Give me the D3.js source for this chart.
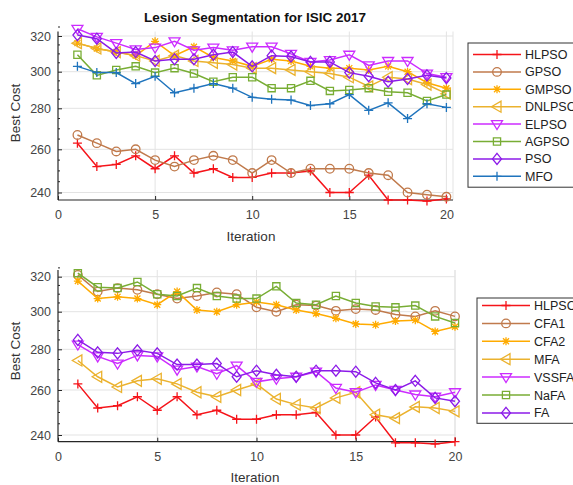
<!DOCTYPE html>
<html>
<head>
	<script type="text/javascript" src="https://cdn.jsdelivr.net/npm/d3@7/dist/d3.min.js"></script>
	<style>
		body { margin: 0; background: #fff; }
		text { font-family: "Liberation Sans", Arial, sans-serif; }
	</style>
</head>
<body>
	<script type="text/javascript">

		// x values (iterations) and tick labels
		var iterations = [1, 2, 3, 4, 5, 6, 7, 8, 9, 10, 11, 12, 13, 14, 15, 16, 17, 18, 19, 20];
		var xTicks = [0, 5, 10, 15, 20];
		var yTicks = [240, 260, 280, 300, 320];

		// top panel series
		var hlpso  = [263, 252, 253, 257, 251, 257, 249, 251, 247, 247, 249, 249, 250, 240, 240, 248, 236.5, 236.5, 236, 237];
		var gpso   = [267, 263, 259, 260, 255, 252, 255, 257, 255, 249, 255, 249, 251, 251, 251, 249, 248, 240, 239, 238];
		var gmpso  = [316, 313, 311, 309, 317, 309, 314, 308, 306, 303, 307, 306, 303, 302, 302, 301, 303, 300, 294, 291];
		var dnlpso = [316, 313, 311, 309, 306, 309, 306, 305, 304, 302, 302, 301, 300, 299, 297, 292, 297, 296, 293, 288];
		var elpso  = [324, 319.5, 316, 312.5, 313.5, 317, 312, 313.5, 312, 314, 314, 310, 305.5, 306.5, 309.5, 303.5, 306, 306, 299, 297];
		var agpso  = [309.5, 298, 301, 303, 299.5, 302, 299, 294.5, 297, 297, 291, 291, 295, 289.5, 290, 291, 289, 288.5, 284, 287.5];
		var pso    = [320.5, 318.5, 310.5, 311, 306, 307, 307, 309.5, 311, 303, 309, 308.5, 305.5, 305.5, 299.5, 297.5, 294.5, 296, 298, 296.5];
		var mfo    = [303, 299.5, 299.5, 293.5, 297.5, 288.5, 291, 293.5, 291, 286, 285, 284.5, 281.5, 282.5, 287.5, 279, 283, 275, 282.5, 280.5];

		// bottom panel series
		var cfa1  = [321, 311.5, 313.5, 312.5, 310, 307.5, 309, 311, 310, 302.5, 300, 304, 303.5, 300.5, 301.5, 301, 298.5, 297.5, 300.5, 297.5];
		var cfa2  = [317.5, 307.5, 308.5, 307.5, 304, 311.5, 301, 300, 304, 305.5, 304, 301, 299, 296.5, 293.5, 293, 295, 295.5, 289.5, 292];
		var mfa   = [274.5, 266.5, 261.5, 264.5, 265.5, 263, 259, 257, 260, 263, 256, 253.5, 252, 256.5, 259, 249, 247.5, 252.5, 252, 250.5];
		var vssfa = [282.5, 276.5, 273, 277, 276.5, 270, 271.5, 268, 272, 264, 265.5, 266.5, 269, 261, 259, 262.5, 260, 258, 257, 259];
		var nafa  = [322, 314, 313.5, 317, 310, 309, 313.5, 309, 307.5, 307.5, 314.5, 305, 304, 309, 305, 303, 302.5, 303.5, 297.5, 294];
		var fa    = [285, 278.5, 278, 279.5, 278, 272.5, 272.5, 273, 266.5, 269.5, 267.5, 266.5, 269.5, 269.5, 269, 263.5, 260, 264.5, 256.5, 255];

		var topNames = ['HLPSO', 'GPSO', 'GMPSO', 'DNLPSO', 'ELPSO', 'AGPSO', 'PSO', 'MFO'];
		var topSeries = [hlpso, gpso, gmpso, dnlpso, elpso, agpso, pso, mfo];
		var bottomNames = ['HLPSO', 'CFA1', 'CFA2', 'MFA', 'VSSFA', 'NaFA', 'FA'];
		var bottomSeries = [hlpso, cfa1, cfa2, mfa, vssfa, nafa, fa];

		// styles
		var red = '#f5141a', brown = '#c07a4c', orange = '#ffab00', gold = '#ebb22e',
			magenta = '#cc2cff', green = '#78ad34', purple = '#8c1be8', blue = '#1f74bd';
		var topStyle = [
			{c: red, m: 'plus'}, {c: brown, m: 'circle'}, {c: orange, m: 'star'}, {c: gold, m: 'left'},
			{c: magenta, m: 'down'}, {c: green, m: 'square'}, {c: purple, m: 'diamond'}, {c: blue, m: 'plus'}
		];
		var bottomStyle = [
			{c: red, m: 'plus'}, {c: brown, m: 'circle'}, {c: orange, m: 'star'}, {c: gold, m: 'left'},
			{c: magenta, m: 'down'}, {c: green, m: 'square'}, {c: purple, m: 'diamond'}
		];

		function markerPath(m) {
			switch (m) {
				case 'plus': return 'M-4.5,0H4.5M0,-4.5V4.5';
				case 'star': return 'M-4,0H4M0,-4V4M-3,-3L3,3M-3,3L3,-3';
				case 'circle': return 'M4.3,0A4.3,4.3 0 1,1 -4.3,0A4.3,4.3 0 1,1 4.3,0Z';
				case 'square': return 'M-3.6,-3.6H3.6V3.6H-3.6Z';
				case 'diamond': return 'M0,-5.5L4.5,0L0,5.5L-4.5,0Z';
				case 'down': return 'M-5.5,-3.5H5.5L0,5.5Z';
				case 'left': return 'M4,-5.5V5.5L-5.5,0Z';
			}
		}

		var W = 573, H = 485;
		var svg = d3.select('body').append('svg')
			.attr('width', W).attr('height', H);

		function panel(opt) {
			var x = d3.scaleLinear().domain([0, opt.xMax]).range([opt.left, opt.right]);
			// the picture's y axis is slightly uneven, so map through the tick stops
			var y = d3.scaleLinear().domain(opt.yDomain).range(opt.yRange);
			var top = opt.yRange[opt.yRange.length - 1], bottom = opt.yRange[0];
			var g = svg.append('g');

			// grid
			g.selectAll('.gy').data(yTicks).enter().append('line')
				.attr('x1', opt.left).attr('x2', opt.right)
				.attr('y1', function(d) { return y(d); }).attr('y2', function(d) { return y(d); })
				.attr('stroke', '#e3e3e3').attr('stroke-width', 1);
			g.selectAll('.gx').data(xTicks.slice(1)).enter().append('line')
				.attr('y1', top).attr('y2', bottom)
				.attr('x1', function(d) { return x(d); }).attr('x2', function(d) { return x(d); })
				.attr('stroke', '#e3e3e3').attr('stroke-width', 1);
			g.append('line').attr('x1', opt.right).attr('x2', opt.right).attr('y1', top).attr('y2', bottom)
				.attr('stroke', '#e3e3e3');

			// axes
			var ax = g.append('g').attr('transform', 'translate(0,' + bottom + ')')
				.call(d3.axisBottom(x).tickValues(xTicks).tickSizeInner(-4).tickSizeOuter(0).tickPadding(10));
			var ay = g.append('g').attr('transform', 'translate(' + opt.left + ',0)')
				.call(d3.axisLeft(y).tickValues(yTicks).tickSizeInner(-4).tickSizeOuter(0).tickPadding(7));
			[ax, ay].forEach(function(a) {
				a.select('.domain').attr('stroke', '#262626').attr('stroke-width', 1.2);
				a.selectAll('.tick line').attr('stroke', '#262626');
				a.selectAll('.tick text').attr('fill', '#444').style('font-size', '12.5px')
					.style('font-family', '"Liberation Sans", Arial, sans-serif');
			});
			ax.select('.domain').attr('d', 'M' + opt.left + ',0H' + opt.right);
			ay.select('.domain').attr('d', 'M0,' + bottom + 'V' + top);

			// minor ticks on y
			var minor = d3.range(opt.yDomain[0], opt.yDomain[opt.yDomain.length - 1], 5)
				.map(function(v) { return Math.ceil(v / 5) * 5; })
				.filter(function(v) { return yTicks.indexOf(v) < 0; });
			g.selectAll('.my').data(minor).enter().append('line')
				.attr('x1', opt.left).attr('x2', opt.left + 2)
				.attr('y1', function(d) { return y(d); }).attr('y2', function(d) { return y(d); })
				.attr('stroke', '#262626');

			// series (clip a little past the frame so edge markers still show)
			var clipId = 'clip' + opt.id;
			svg.append('clipPath').attr('id', clipId).append('rect')
				.attr('x', opt.left - 8).attr('y', top - 8)
				.attr('width', opt.right - opt.left + 16).attr('height', bottom - top + 14);
			var line = d3.line()
				.x(function(d, i) { return x(iterations[i]); })
				.y(function(d) { return y(d); });
			var sg = g.append('g').attr('clip-path', 'url(#' + clipId + ')');
			opt.series.forEach(function(s, k) {
				var st = opt.style[k];
				var sgg = sg.append('g');
				sgg.append('path').datum(s)
					.attr('d', line).attr('fill', 'none')
					.attr('stroke', st.c).attr('stroke-width', 1.5);
				sgg.selectAll('path.mk').data(s).enter().append('path')
					.attr('class', 'mk')
					.attr('transform', function(d, i) { return 'translate(' + x(iterations[i]) + ',' + y(d) + ')'; })
					.attr('d', markerPath(st.m))
					.attr('fill', 'none').attr('stroke', st.c).attr('stroke-width', 1.3);
			});

			// labels
			g.append('text').attr('x', opt.xLabel[0]).attr('y', opt.xLabel[1])
				.attr('text-anchor', 'middle').attr('fill', '#333').style('font-size', '13.5px')
				.text('Iteration');
			g.append('text').attr('transform', 'translate(' + opt.yLabel[0] + ',' + opt.yLabel[1] + ') rotate(-90)')
				.attr('text-anchor', 'middle').attr('fill', '#333').style('font-size', '13.5px')
				.text('Best Cost');

			// legend
			var L = opt.legend;
			var rowH = L.rowH;
			g.append('rect').attr('x', L.x).attr('y', L.y)
				.attr('width', 120).attr('height', rowH * opt.names.length + L.pad)
				.attr('fill', '#fff').attr('stroke', '#333').attr('stroke-width', 1);
			opt.names.forEach(function(name, k) {
				var st = opt.style[k];
				var cy = L.y + L.first + k * rowH;
				g.append('line').attr('x1', L.x + 5).attr('x2', L.x + 53)
					.attr('y1', cy).attr('y2', cy).attr('stroke', st.c).attr('stroke-width', 1.5);
				g.append('path').attr('transform', 'translate(' + (L.x + 29) + ',' + cy + ')')
					.attr('d', markerPath(st.m)).attr('fill', 'none')
					.attr('stroke', st.c).attr('stroke-width', 1.3);
				g.append('text').attr('x', L.x + 57).attr('y', cy + 4.5)
					.attr('fill', '#222').style('font-size', '12.5px').text(name);
			});
		}

		panel({
			id: 1, left: 58, right: 453, xMax: 20.34,
			yDomain: [236.5, 240, 260, 280, 300, 320, 322.5],
			yRange: [200, 192.5, 149.3, 108.3, 71.7, 36, 31.5],
			series: topSeries, names: topNames, style: topStyle,
			xLabel: [251, 241], yLabel: [20, 113],
			legend: {x: 468, y: 43, rowH: 17.4, first: 11.5, pad: 5}
		});

		panel({
			id: 2, left: 58, right: 455, xMax: 20,
			yDomain: [237, 240, 260, 280, 300, 320, 323.8],
			yRange: [441.7, 435, 390, 349.3, 311.7, 276.7, 270],
			series: bottomSeries, names: bottomNames, style: bottomStyle,
			xLabel: [255, 482], yLabel: [20, 351],
			legend: {x: 477, y: 298, rowH: 17.9, first: 7.5, pad: 0}
		});

		// title
		svg.append('text').attr('x', 255).attr('y', 22)
			.attr('text-anchor', 'middle').attr('fill', '#111')
			.style('font-size', '13.5px').style('font-weight', 'bold')
			.text('Lesion Segmentation for ISIC 2017');

	</script>
</body>
</html>
